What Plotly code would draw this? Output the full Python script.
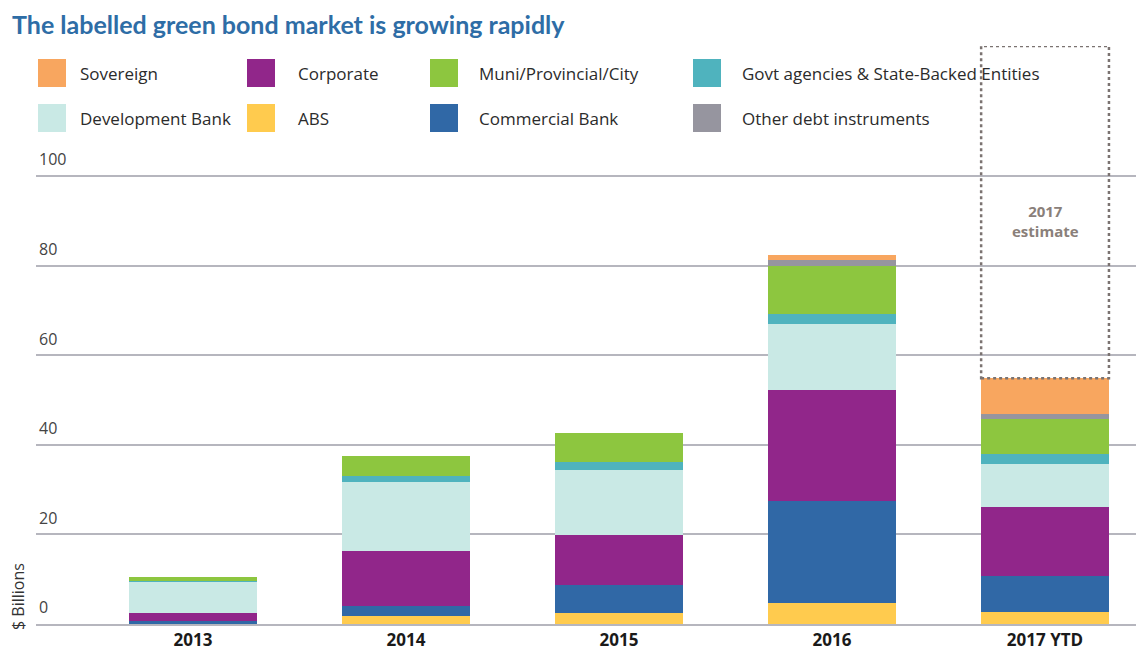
import plotly.graph_objects as go

# ---------------- data ----------------
categories = ["2013", "2014", "2015", "2016", "2017 YTD"]
abs_vals = [0.0, 1.7, 2.4, 4.75, 2.75]
commercial_bank = [0.7, 2.4, 6.3, 22.6, 8.0]
corporate = [1.7, 12.3, 11.1, 24.8, 15.4]
development_bank = [7.1, 15.3, 14.6, 14.7, 9.6]
govt_agencies = [0.2, 1.4, 1.7, 2.4, 2.1]
muni = [0.7, 4.3, 6.6, 10.6, 8.0]
other_debt = [0.0, 0.0, 0.0, 1.3, 1.1]
sovereign = [0.0, 0.0, 0.0, 1.1, 7.9]
estimate_2017_total = 129.0

y_ticks = [0, 20, 40, 60, 80, 100]

series_names = ["ABS", "Commercial Bank", "Corporate", "Development Bank",
                "Govt agencies & State-Backed Entities", "Muni/Provincial/City",
                "Other debt instruments", "Sovereign"]
series_values = [abs_vals, commercial_bank, corporate, development_bank,
                 govt_agencies, muni, other_debt, sovereign]
colors = {
    "Sovereign": "#F8A65F",
    "Corporate": "#91268A",
    "Muni/Provincial/City": "#8DC63F",
    "Govt agencies & State-Backed Entities": "#4FB3BE",
    "Development Bank": "#C9E9E5",
    "ABS": "#FFCB4E",
    "Commercial Bank": "#3068A6",
    "Other debt instruments": "#96959F",
}
legend_rows = [
    ["Sovereign", "Corporate", "Muni/Provincial/City", "Govt agencies & State-Backed Entities"],
    ["Development Bank", "ABS", "Commercial Bank", "Other debt instruments"],
]

# ---------------- figure ----------------
W, H = 1136, 650
ML, MR, MT, MB = 36, 0, 46, 26
PW, PH = W - ML - MR, H - MT - MB


def px_x(px):
    return (px - ML) / PW


def px_y(py):
    return (H - MB - py) / PH


fig = go.Figure()
for name, vals in zip(series_names, series_values):
    fig.add_trace(go.Bar(
        x=categories, y=vals, name=name, width=0.6,
        marker=dict(color=colors[name], line=dict(width=0)),
        showlegend=False,
    ))

GRID = "#b6b6be"
fig.update_layout(
    width=W, height=H,
    barmode="stack",
    plot_bgcolor="white", paper_bgcolor="white",
    margin=dict(l=ML, r=MR, t=MT, b=MB, autoexpand=False),
    font=dict(family="Open Sans", color="#2b2b2b"),
    title=dict(
        text="<b>The labelled green bond market is growing rapidly</b>",
        x=12 / W, xanchor="left", xref="container",
        y=1 - 25 / H, yanchor="middle", yref="container",
        font=dict(family="Lato", size=25, color="#2E6DA6"),
    ),
    xaxis=dict(
        type="category", range=[-0.737, 4.427], automargin=False,
        showgrid=False, zeroline=False,
        showline=True, linecolor=GRID, linewidth=1.5,
        tickfont=dict(family="Open Sans", size=17, color="#1a1a1a", weight="bold"),
        ticks="", ticklabelstandoff=0,
    ),
    yaxis=dict(
        range=[0, estimate_2017_total], tickvals=y_ticks, automargin=False,
        showgrid=True, gridcolor=GRID, gridwidth=1.5,
        zeroline=False, showline=False,
        ticklabelposition="inside top", ticklabelshift=-5,
        tickfont=dict(family="Open Sans", size=16, color="#444444"),
        ticks="",
    ),
)

# dotted estimate box above 2017 bar
ytd_total = sum(v[4] for v in series_values)
fig.add_shape(type="rect", xref="x", yref="y",
              x0=4 - 0.3, x1=4 + 0.3, y0=ytd_total, y1=estimate_2017_total,
              line=dict(color="#7b7371", width=2.5, dash="dot"),
              fillcolor="rgba(0,0,0,0)", layer="above")
fig.add_annotation(x=4, y=90.0, xref="x", yref="y",
                   text="<b>2017<br>estimate</b>", showarrow=False,
                   font=dict(family="Open Sans", size=15, color="#8a807a"))

# y-axis title
fig.add_annotation(x=px_x(18), y=px_y(597), xref="paper", yref="paper",
                   xanchor="center", yanchor="middle",
                   text="$ Billions", textangle=-90, showarrow=False,
                   font=dict(family="Open Sans", size=16, color="#333333"))

# custom legend
col_sq = [38, 247, 430, 693]
col_tx = [78, 296, 477, 740]
row_y = [73, 118]
for r, row in enumerate(legend_rows):
    for c, name in enumerate(row):
        cy = row_y[r]
        fig.add_shape(type="rect", xref="paper", yref="paper",
                      x0=px_x(col_sq[c]), x1=px_x(col_sq[c] + 28),
                      y0=px_y(cy + 14), y1=px_y(cy - 14),
                      fillcolor=colors[name], line=dict(width=0))
        fig.add_annotation(x=px_x(col_tx[c]), y=px_y(cy), xref="paper", yref="paper",
                           xanchor="left", yanchor="middle", text=name,
                           showarrow=False,
                           font=dict(family="Open Sans", size=17, color="#2b2b2b"))

fig.write_html("out.html", config={"displayModeBar": False},
               post_script="document.body.style.margin='0';")
